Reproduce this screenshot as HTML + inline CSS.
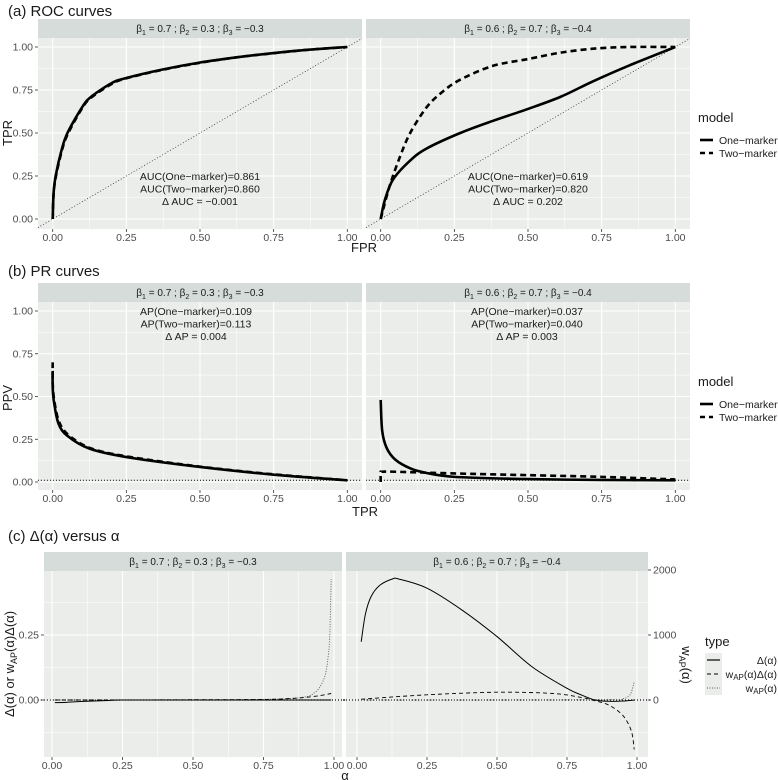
<!DOCTYPE html>
<html><head><meta charset="utf-8"><style>
html,body{margin:0;padding:0;background:#fff;}
svg{display:block;font-family:"Liberation Sans",sans-serif;}
</style></head><body>
<svg id="c" width="778" height="780" xmlns="http://www.w3.org/2000/svg"></svg>
<script>
// ---- data ----
const rocLeftFpr = [0,0.003,0.01,0.03,0.05,0.1,0.13,0.2,0.25,0.375,0.5,0.625,0.75,0.875,1];
const rocLeftOne = [0,0.15,0.25,0.4,0.5,0.65,0.71,0.79,0.82,0.87,0.91,0.94,0.965,0.985,1];
const rocLeftTwo = [0,0.14,0.24,0.39,0.49,0.645,0.705,0.785,0.818,0.868,0.908,0.94,0.964,0.985,1];
const rocRightFpr = [0,0.014,0.042,0.1,0.156,0.27,0.38,0.5,0.61,0.72,0.84,1];
const rocRightOne = [0,0.11,0.23,0.34,0.41,0.5,0.57,0.64,0.71,0.8,0.89,1];
const rocRightTwoFpr = [0,0.03,0.065,0.1,0.156,0.21,0.27,0.38,0.5,0.61,0.72,0.84,1];
const rocRightTwo = [0,0.19,0.36,0.5,0.65,0.74,0.81,0.89,0.93,0.967,0.99,1,1];
const prLeftTpr = [0,0,0.005,0.02,0.05,0.125,0.25,0.5,0.75,1];
const prLeftOne = [0.65,0.55,0.46,0.34,0.27,0.195,0.146,0.088,0.043,0.01];
const prLeftTwo = [0.7,0.58,0.48,0.36,0.28,0.2,0.15,0.09,0.045,0.01];
const prRightTpr = [0,0.005,0.02,0.05,0.1,0.15,0.25,0.5,0.75,1];
const prRightOne = [0.48,0.3,0.2,0.13,0.08,0.055,0.03,0.017,0.012,0.01];
const prRightTwoTpr = [0,0,0.005,0.05,0.25,0.5,0.75,1];
const prRightTwo = [0,0.055,0.06,0.06,0.05,0.04,0.03,0.015];
const prevalence = [0.01,0.01];
const alphaL = [0.01,0.05,0.1,0.2,0.25,0.5,0.75,0.85,0.9,0.95,0.99];
const deltaL = [-0.01,-0.009,-0.006,-0.002,0,0,0,0,0,0,0];
const wdeltaL = [0,0,0,0,0,0.001,0.002,0.006,0.01,0.017,0.025];
const alphaWL = [0.01,0.5,0.8,0.9,0.93,0.95,0.97,0.98,0.985,0.99];
const wL = [0,0,15,50,110,200,400,700,1000,1860];
const alphaR = [0.015,0.03,0.05,0.08,0.125,0.15,0.25,0.375,0.5,0.625,0.75,0.8,0.85,0.9,0.95,0.99];
const deltaR = [0.224,0.33,0.397,0.44,0.465,0.465,0.43,0.346,0.244,0.128,0.045,0.02,0.0,-0.005,-0.004,0];
const alphaWDR = [0.015,0.25,0.5,0.7,0.8,0.85,0.9,0.95,0.98,0.99];
const wdeltaR = [0.003,0.02,0.03,0.025,0.01,-0.003,-0.02,-0.06,-0.12,-0.19];
const alphaWR = [0.015,0.5,0.9,0.95,0.97,0.98,0.99];
const wR = [0,0,5,20,60,120,280];
const unitTicks = [0,0.25,0.5,0.75,1];
const unitTickLabels = ["0.00","0.25","0.50","0.75","1.00"];
const cLeftTicks = [0,0.25];
const cLeftTickLabels = ["0.00","0.25"];
const cRightTicks = [0,1000,2000];
const cRightTickLabels = ["0","1000","2000"];

const NS="http://www.w3.org/2000/svg";
const svg=document.getElementById('c');
function el(tag,attrs,parent,text){const e=document.createElementNS(NS,tag);for(const k in attrs)e.setAttribute(k,attrs[k]);if(text!==undefined)e.textContent=text;(parent||svg).appendChild(e);return e;}

function panel(p){
  const g=el('g',{});
  
  
  const r=el('rect',{x:p.px0,y:p.py0,width:p.px1-p.px0,height:p.py1-p.py0,fill:'#ebedeb'},g);
  
  
  [0.125,0.375,0.625,0.875].forEach(v=>{const x=p.xs(v);el('line',{x1:x,x2:x,y1:p.py0,y2:p.py1,stroke:'#fff','stroke-width':0.5},g);});
  p.yMinor.forEach(v=>{const y=p.ys(v);if(y>p.py0&&y<p.py1)el('line',{x1:p.px0,x2:p.px1,y1:y,y2:y,stroke:'#fff','stroke-width':0.5},g);});
  unitTicks.forEach((v,i)=>{const x=p.xs(v);el('line',{x1:x,x2:x,y1:p.py0,y2:p.py1,stroke:'#fff','stroke-width':1.1},g);
    el('line',{x1:x,x2:x,y1:p.py1,y2:p.py1+3,stroke:'#333','stroke-width':0.8},g);
    const t=el('text',{x:x,y:p.py1+12,'font-size':10.5,fill:'#4d4d4d','text-anchor':'middle'},g,unitTickLabels[i]);
    
    });
  p.yMajor.forEach(v=>{const y=p.ys(v);el('line',{x1:p.px0,x2:p.px1,y1:y,y2:y,stroke:'#fff','stroke-width':1.1},g);});
  if(p.yLabels){p.yMajor.forEach((v,i)=>{const y=p.ys(v);el('line',{x1:p.px0-3,x2:p.px0,y1:y,y2:y,stroke:'#333','stroke-width':0.8},g);
    const t=el('text',{x:p.px0-5,y:y+3.5,'font-size':10.5,fill:'#4d4d4d','text-anchor':'end'},g,p.yLabels[i]);
    
    });}
  const s=el('rect',{x:p.px0,y:p.sy0,width:p.px1-p.px0,height:p.py0-p.sy0,fill:'#d6dcd9'},g);
  
  
  const st=el('text',{x:(p.px0+p.px1)/2,y:p.sy0+13,'font-size':10,fill:'#1a1a1a','text-anchor':'middle'},g);
  
  
  const b=p.betas;
  [['β',b[0],1],['β',b[1],2],['β',b[2],3]].forEach((q,i)=>{
    el('tspan',{},st,q[0]);el('tspan',{'font-size':7,dy:3},st,String(q[2]));el('tspan',{dy:-3},st,' = '+q[1]+(i<2?' ; ':''));
  });
  return g;
}
function line(g,xs,ys,xv,yv,attrs,name){
  const P=xv.map((v,i)=>[xs(v),ys(yv[i])]);
  let d='M'+P[0][0].toFixed(2)+','+P[0][1].toFixed(2);
  const k=0.16;
  for(let i=0;i<P.length-1;i++){
    const p0=P[Math.max(i-1,0)],p1=P[i],p2=P[i+1],p3=P[Math.min(i+2,P.length-1)];
    const c1=[p1[0]+(p2[0]-p0[0])*k,p1[1]+(p2[1]-p0[1])*k];
    const c2=[p2[0]-(p3[0]-p1[0])*k,p2[1]-(p3[1]-p1[1])*k];
    d+='C'+c1.map(n=>n.toFixed(2)).join(',')+' '+c2.map(n=>n.toFixed(2)).join(',')+' '+p2[0].toFixed(2)+','+p2[1].toFixed(2);
  }
  const a=Object.assign({d:d,fill:'none'},attrs);
  const e=el('path',a,g);
  
  
  return e;
}
function text(x,y,s,size,anchor,name,extra){const t=el('text',Object.assign({x:x,y:y,'font-size':size,fill:'#1a1a1a','text-anchor':anchor||'start'},extra||{}),svg,s);
  
  return t;}

const minor01=[0.125,0.375,0.625,0.875];
const lin=(a,b)=>v=>a+v*(b-a);

// ---- (a) ROC ----
text(8,16,'(a) ROC curves',15,'start','roc-title');
const aY=lin(219,47);
const aLx=lin(52.7,347.3), aRx=lin(380.7,675.3);
const aL=panel({name:'roc-left-panel',px0:38,px1:362,py0:38,py1:229,sy0:19,xs:aLx,ys:aY,yMajor:unitTicks,yMinor:minor01,yLabels:unitTickLabels,betas:['0.7','0.3','−0.3']});
const aR=panel({name:'roc-right-panel',px0:366,px1:690,py0:38,py1:229,sy0:19,xs:aRx,ys:aY,yMajor:unitTicks,yMinor:minor01,betas:['0.6','0.7','−0.4']});
const diag=[-0.05,1.05];
line(aL,aLx,aY,diag,diag,{stroke:'#333','stroke-width':0.8,'stroke-dasharray':'1,2'},'diagonal-reference');
line(aR,aRx,aY,diag,diag,{stroke:'#333','stroke-width':0.8,'stroke-dasharray':'1,2'},'diagonal-reference');
line(aL,aLx,aY,rocLeftFpr,rocLeftTwo,{stroke:'#000','stroke-width':2.6,'stroke-dasharray':'6,4'},'roc-left-two-marker');
line(aL,aLx,aY,rocLeftFpr,rocLeftOne,{stroke:'#000','stroke-width':2.6},'roc-left-one-marker');
line(aR,aRx,aY,rocRightTwoFpr,rocRightTwo,{stroke:'#000','stroke-width':2.6,'stroke-dasharray':'6,4'},'roc-right-two-marker');
line(aR,aRx,aY,rocRightFpr,rocRightOne,{stroke:'#000','stroke-width':2.6},'roc-right-one-marker');
[['AUC(One−marker)=0.861','AUC(Two−marker)=0.860','Δ AUC = −0.001',200],['AUC(One−marker)=0.619','AUC(Two−marker)=0.820','Δ AUC = 0.202',528]].forEach(a=>{
  for(let i=0;i<3;i++)text(a[3],180+i*12.5,a[i],10.5,'middle','auc-annotation');
});
text(8,133,'TPR',13,'middle','y-axis-title',{transform:'rotate(-90 8 133)',dy:4});
text(364,252,'FPR',13,'middle','x-axis-title');
function legend(x,y,title,items){
  text(x,y,title,13,'start','legend-title');
  items.forEach((it,i)=>{const yy=y+18+i*13;
    const l=el('line',Object.assign({x1:x+2,x2:x+15,y1:yy,y2:yy,stroke:'#000'},it.attrs));
    
    
    text(x+21,yy+4,it.label,10.5,'start','legend-entry');
  });
}
legend(698,122,'model',[{label:'One−marker',attrs:{'stroke-width':2.6}},{label:'Two−marker',attrs:{'stroke-width':2.6,'stroke-dasharray':'5,4'}}]);

// ---- (b) PR ----
text(8,276,'(b) PR curves',15,'start','pr-title');
const bY=lin(482,311);
const bL=panel({name:'pr-left-panel',px0:38,px1:362,py0:302,py1:490,sy0:283,xs:aLx,ys:bY,yMajor:unitTicks,yMinor:minor01,yLabels:unitTickLabels,betas:['0.7','0.3','−0.3']});
const bR=panel({name:'pr-right-panel',px0:366,px1:690,py0:302,py1:490,sy0:283,xs:aRx,ys:bY,yMajor:unitTicks,yMinor:minor01,betas:['0.6','0.7','−0.4']});
line(bL,aLx,bY,diag,prevalence,{stroke:'#000','stroke-width':1,'stroke-dasharray':'1,2'},'prevalence-line');
line(bR,aRx,bY,diag,prevalence,{stroke:'#000','stroke-width':1,'stroke-dasharray':'1,2'},'prevalence-line');
line(bL,aLx,bY,prLeftTpr,prLeftTwo,{stroke:'#000','stroke-width':2.6,'stroke-dasharray':'6,4'},'pr-left-two-marker');
line(bL,aLx,bY,prLeftTpr,prLeftOne,{stroke:'#000','stroke-width':2.6},'pr-left-one-marker');
line(bR,aRx,bY,prRightTwoTpr,prRightTwo,{stroke:'#000','stroke-width':2.6,'stroke-dasharray':'6,4'},'pr-right-two-marker');
line(bR,aRx,bY,prRightTpr,prRightOne,{stroke:'#000','stroke-width':2.6},'pr-right-one-marker');
[['AP(One−marker)=0.109','AP(Two−marker)=0.113','Δ AP = 0.004',196],['AP(One−marker)=0.037','AP(Two−marker)=0.040','Δ AP = 0.003',527]].forEach(a=>{
  for(let i=0;i<3;i++)text(a[3],315+i*12.5,a[i],10.5,'middle','ap-annotation');
});
text(8,398,'PPV',13,'middle','y-axis-title',{transform:'rotate(-90 8 398)',dy:4});
text(365,516,'TPR',13,'middle','x-axis-title');
legend(698,386,'model',[{label:'One−marker',attrs:{'stroke-width':2.6}},{label:'Two−marker',attrs:{'stroke-width':2.6,'stroke-dasharray':'5,4'}}]);

// ---- (c) ----
text(8,541,'(c) Δ(α) versus α',15,'start','delta-title');
const cY=v=>700-260*v, cW=v=>700-0.065*v;
const cLx=lin(52,334), cRx=lin(357,637);
const cMinor=[-0.125,0.125,0.375];
const cMajor=[-0.25,0,0.25,0.5];
const cL=panel({name:'delta-left-panel',px0:44,px1:342,py0:571,py1:757,sy0:552,xs:cLx,ys:cY,yMajor:cMajor.filter(v=>cY(v)>571&&cY(v)<757),yMinor:cMinor,betas:['0.7','0.3','−0.3']});
const cR=panel({name:'delta-right-panel',px0:346,px1:648,py0:571,py1:757,sy0:552,xs:cRx,ys:cY,yMajor:cMajor.filter(v=>cY(v)>571&&cY(v)<757),yMinor:cMinor,betas:['0.6','0.7','−0.4']});
cLeftTicks.forEach((v,i)=>{el('line',{x1:41,x2:44,y1:cY(v),y2:cY(v),stroke:'#333','stroke-width':0.8});
  text(39,cY(v)+3.5,cLeftTickLabels[i],10.5,'end','y-tick-label',{fill:'#4d4d4d'});});
cRightTicks.forEach((v,i)=>{el('line',{x1:648,x2:651,y1:cW(v),y2:cW(v),stroke:'#333','stroke-width':0.8});
  text(653,cW(v)+3.5,cRightTickLabels[i],10.5,'start','y2-tick-label',{fill:'#4d4d4d'});});
const zero=[-0.05,1.05], zeros=[0,0];
line(cL,cLx,cY,zero,zeros,{stroke:'#000','stroke-width':1.2,'stroke-dasharray':'1,2'},'zero-line');
line(cR,cRx,cY,zero,zeros,{stroke:'#000','stroke-width':1.2,'stroke-dasharray':'1,2'},'zero-line');
line(cL,cLx,cW,alphaWL,wL,{stroke:'#555','stroke-width':0.9,'stroke-dasharray':'1,1.5'},'w-ap-left');
line(cL,cLx,cY,alphaL,wdeltaL,{stroke:'#000','stroke-width':0.9,'stroke-dasharray':'4,3'},'weighted-delta-left');
line(cL,cLx,cY,alphaL,deltaL,{stroke:'#000','stroke-width':1},'delta-left');
line(cR,cRx,cW,alphaWR,wR,{stroke:'#555','stroke-width':0.9,'stroke-dasharray':'1,1.5'},'w-ap-right');
line(cR,cRx,cY,alphaWDR,wdeltaR,{stroke:'#000','stroke-width':0.9,'stroke-dasharray':'4,3'},'weighted-delta-right');
line(cR,cRx,cY,alphaR,deltaR,{stroke:'#000','stroke-width':1},'delta-right');
const yt=text(10,664,'',13,'middle','y-axis-title',{transform:'rotate(-90 10 664)',dy:4});
yt.innerHTML='Δ(α) or w<tspan font-size="9" dy="3">AP</tspan><tspan dy="-3">(α)Δ(α)</tspan>';
const y2=text(686,665,'',13,'middle','y2-axis-title',{transform:'rotate(90 686 665)',dy:4});
y2.innerHTML='w<tspan font-size="9" dy="3">AP</tspan><tspan dy="-3">(α)</tspan>';
text(345,780,'α',13,'middle','x-axis-title');
text(705,646,'type',13,'start','legend-title');
[['Δ(α)',{'stroke-width':1.2}],['w<tspan font-size="8" dy="2">AP</tspan><tspan dy="-2">(α)Δ(α)</tspan>',{'stroke-dasharray':'4,3'}],['w<tspan font-size="8" dy="2">AP</tspan><tspan dy="-2">(α)</tspan>',{'stroke-dasharray':'1,1.5',stroke:'#555'}]].forEach((it,i)=>{
  const yy=660+i*14;
  const r=el('rect',{x:705,y:yy-7,width:17,height:14,fill:'#ebedeb'});
  
  
  el('line',Object.assign({x1:707,x2:720,y1:yy,y2:yy,stroke:'#000','stroke-width':1},it[1]));
  const t=text(777,yy+4,'',10.5,'end','legend-entry');
  t.innerHTML=it[0];
});
</script>
</body></html>
